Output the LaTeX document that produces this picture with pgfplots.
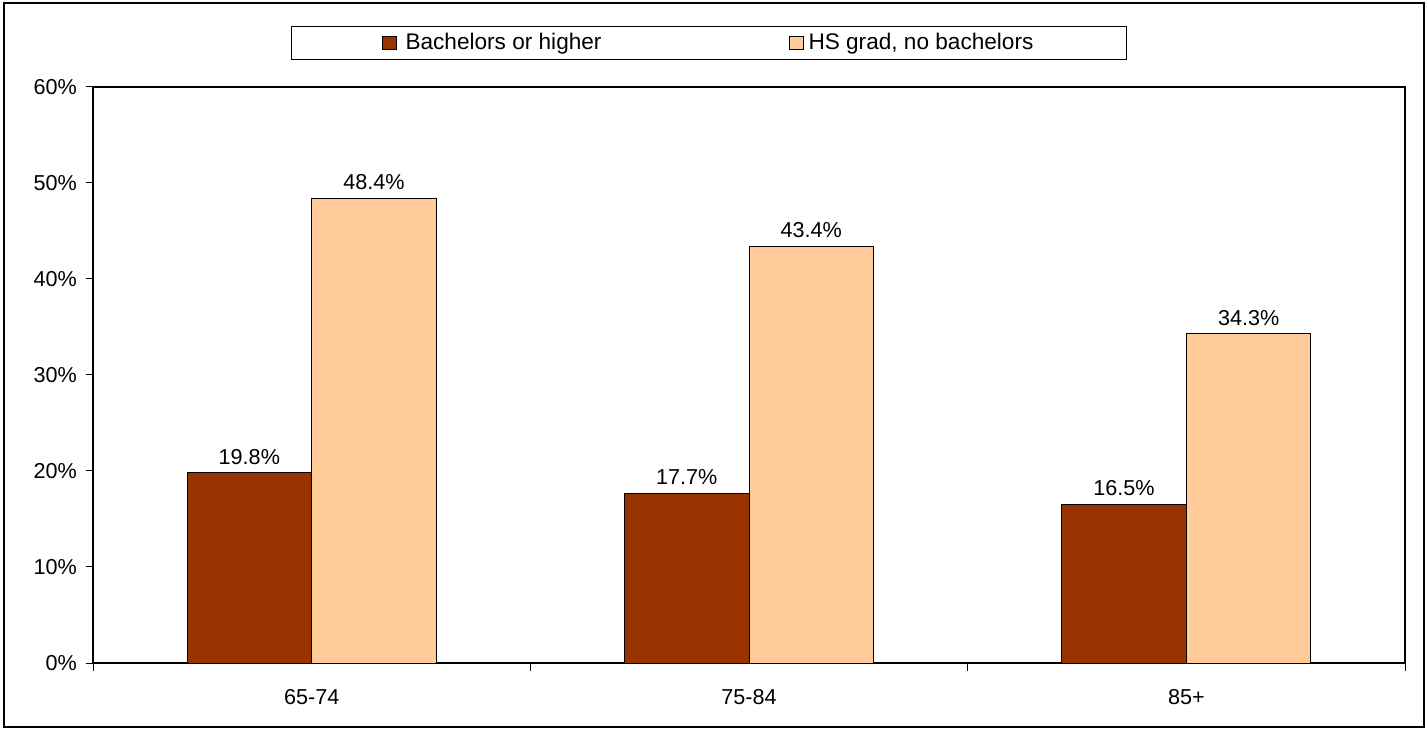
\documentclass[border=0pt]{standalone}
\usepackage{pgfplots}
\pgfplotsset{compat=1.18}
\usepackage{fontspec}
\setmainfont{Liberation Sans}
\definecolor{bach}{HTML}{993300}
\definecolor{hsg}{HTML}{FFCC99}
\begin{document}
\begin{tikzpicture}
\begin{axis}[
  at={(0,0)}, anchor=south west,
  scale only axis, width=656bp, height=288bp,
  font=\fontsize{10.8bp}{13bp}\selectfont,
  /pgf/number format/assume math mode=true,
  ybar, bar width=0.285,
  xmin=-0.5, xmax=2.5, ymin=0, ymax=60,
  xtick={0,1,2}, xticklabels={65-74,75-84,85+},
  major x tick style={draw=none},
  minor xtick={-0.5,0.5,1.5,2.5},
  ytick={0,10,...,60},
  yticklabel={\pgfmathprintnumber{\tick}\%},
  tick align=outside, major tick length=3.5bp, minor tick length=4bp,
  tick style={black, line width=0.5bp},
  axis line style={black, line width=0.6bp},
  xticklabel style={yshift=-6bp},
  yticklabel style={xshift=-1bp},
  axis x line*=box, axis y line*=box,
  xtick pos=bottom, ytick pos=left,
  nodes near coords={\pgfmathprintnumber[fixed,precision=1,fixed zerofill]{\pgfplotspointmeta}\%},
  nodes near coords style={font=\fontsize{10.8bp}{13bp}\selectfont, anchor=south, inner sep=2bp, yshift=2bp},
  legend columns=2,
  legend image code/.code={\draw[#1, line width=0.5bp] (0bp,-3.1bp) rectangle (7bp,3.1bp);},
  legend style={at={(0.4695,1.0764)}, anchor=center, draw=black, line width=0.5bp,
    inner xsep=45bp, inner ysep=2bp,
    font=\fontsize{11.3bp}{13.5bp}\selectfont,
    nodes={inner sep=1.5bp},
    /tikz/column 1/.style={column sep=3bp},
    /tikz/column 2/.style={column sep=92bp},
    /tikz/column 3/.style={column sep=1bp}},
]
\addplot[fill=bach, draw=black, line width=0.5bp, bar shift=-0.1425] coordinates {(0,19.8) (1,17.7) (2,16.5)};
\addplot[fill=hsg, draw=black, line width=0.5bp, bar shift=0.1425] coordinates {(0,48.4) (1,43.4) (2,34.3)};
\legend{Bachelors or higher, {HS grad, no bachelors}}
\end{axis}
\pgfresetboundingbox
\useasboundingbox (-46.5bp,-33.5bp) rectangle (667.5bp,331.5bp);
\draw[line width=1bp] (-44.5bp,-32bp) rectangle (665.5bp,330bp);
\end{tikzpicture}
\end{document}
